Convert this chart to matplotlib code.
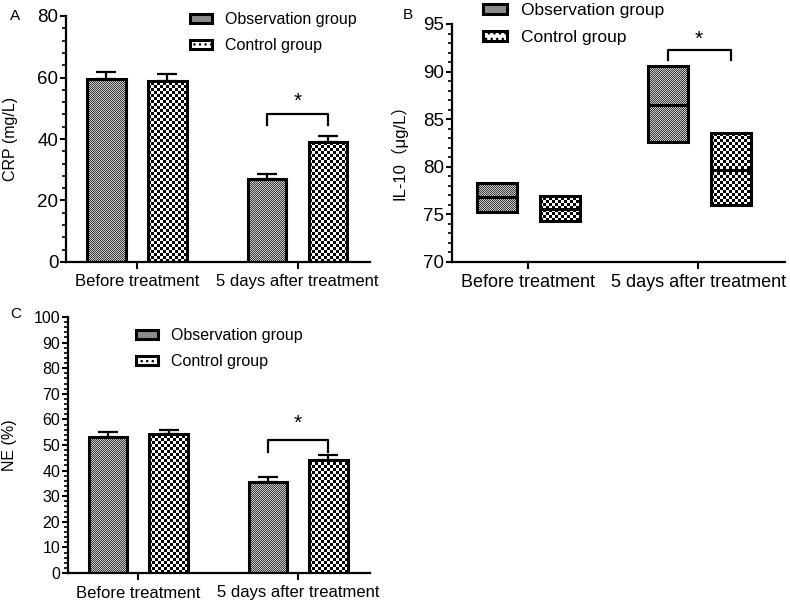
import matplotlib.pyplot as plt
import numpy as np
from matplotlib.colors import ListedColormap
from matplotlib.patches import Patch
from matplotlib.ticker import MultipleLocator

plt.rcParams['font.family'] = ['Liberation Sans', 'Noto Sans CJK SC', 'DejaVu Sans']

groups = ['Before treatment', '5 days after treatment']
series = ['Observation group', 'Control group']

# A: CRP (mean, upper error)
crp_obs = [59.6, 27.0]
crp_obs_err = [2.2, 1.7]
crp_ctrl = [59.0, 39.1]
crp_ctrl_err = [2.2, 1.8]

# B: IL-10 floating bars (min, max, mean)
il_obs_min = [75.3, 82.6]
il_obs_max = [78.3, 90.6]
il_obs_mean = [76.8, 86.5]
il_ctrl_min = [74.3, 76.0]
il_ctrl_max = [76.9, 83.5]
il_ctrl_mean = [75.6, 79.7]

# C: NE
ne_obs = [53.2, 35.7]
ne_obs_err = [1.8, 1.8]
ne_ctrl = [54.3, 44.1]
ne_ctrl_err = [1.5, 1.9]

W, H = 790, 607
fig = plt.figure(figsize=(7.9, 6.07), dpi=100)


def px_axes(l, r, top, bot):
    a = fig.add_axes([l / W, 1 - bot / H, (r - l) / W, (bot - top) / H])
    a.set_facecolor('none')
    return a


axA = px_axes(66, 370, 16, 262)
axB = px_axes(452, 785, 24, 262)
axC = px_axes(68, 370, 317, 573)

styles = {
    'obs': dict(cell=1, c=['#3c3c3c', '#c8c8c8']),
    'ctrl': dict(cell=3, c=['#000000', '#ffffff']),
}


def checker(patch, kind):
    # pixel-aligned checkerboard behind the (unfilled) bar
    st = styles[kind]
    bb = patch.get_window_extent()
    x0, y0 = int(round(bb.x0)), int(round(bb.y0))
    w, h = int(round(bb.width)), int(round(bb.height))
    ii, jj = np.mgrid[0:h, 0:w]
    arr = ((ii // st['cell']) + (jj // st['cell'])) % 2
    fig.figimage(arr, xo=x0, yo=y0, origin='lower', cmap=ListedColormap(st['c']),
                 zorder=-1)


def style_axis(ax, ylim, major, minor, xlim, ysize, xsize):
    ax.set_xlim(*xlim)
    ax.set_ylim(*ylim)
    ax.yaxis.set_major_locator(MultipleLocator(major))
    ax.yaxis.set_minor_locator(MultipleLocator(minor))
    for s in ['top', 'right']:
        ax.spines[s].set_visible(False)
    for s in ['left', 'bottom']:
        ax.spines[s].set_linewidth(1.6)
    ax.set_xticks([0, 1])
    ax.set_xticklabels(groups, fontsize=xsize)
    ax.tick_params(axis='x', length=5, width=1.5, pad=4)
    ax.tick_params(axis='y', which='major', length=4.5, width=1.5, labelsize=ysize, pad=1)
    ax.tick_params(axis='y', which='minor', length=2.8, width=1.2)


def bracket(ax, x1, x2, y, leg, star_y):
    ax.plot([x1, x1, x2, x2], [leg, y, y, leg], color='black', lw=1.6, zorder=4)
    ax.text((x1 + x2) / 2, star_y, '*', ha='center', va='center', fontsize=15)


xlimAC = (-0.44, 1.45)
off, bw = 0.19, 0.24
x = np.arange(len(groups))

for ax, obs, oe, ctrl, ce, ylim, major, minor, ys in [
        (axA, crp_obs, crp_obs_err, crp_ctrl, crp_ctrl_err, (0, 80), 20, 4, 13.5),
        (axC, ne_obs, ne_obs_err, ne_ctrl, ne_ctrl_err, (0, 100), 10, 2, 11.5)]:
    for xs, vals, errs, kind in [(x - off, obs, oe, 'obs'), (x + off, ctrl, ce, 'ctrl')]:
        bars = ax.bar(xs, vals, bw, facecolor='none', edgecolor='black', linewidth=2.2, zorder=3)
        ax.errorbar(xs, vals, yerr=[np.zeros(len(vals)), errs], fmt='none', ecolor='black',
                    elinewidth=1.6, capsize=7, capthick=1.6, zorder=2.5)
        style_axis(ax, ylim, major, minor, xlimAC, ys, 12)
        for p in bars:
            checker(p, kind)

bracket(axA, 1 - off, 1 + off, 48.1, 44.6, 52.2)
bracket(axC, 1 - off, 1 + off, 52.0, 47.4, 58.6)

# B
xlimB = (-0.447, 1.51)
offB = 0.19
for xs, lo, hi, mean, kind in [(x - 0.18, il_obs_min, il_obs_max, il_obs_mean, 'obs'),
                               (x + offB, il_ctrl_min, il_ctrl_max, il_ctrl_mean, 'ctrl')]:
    heights = np.array(hi) - np.array(lo)
    bars = axB.bar(xs, heights, 0.235, bottom=lo, facecolor='none', edgecolor='black',
                   linewidth=2.2, zorder=3)
    style_axis(axB, (70, 95), 5, 1, xlimB, 13.5, 13)
    for p in bars:
        checker(p, kind)
    axB.hlines(mean, xs - 0.235 / 2, xs + 0.235 / 2, color='black', lw=2.2, zorder=4)
bracket(axB, 1 - 0.18, 1 + offB, 92.3, 91.2, 93.4)

# labels
axA.set_ylabel('CRP (mg/L)', fontsize=11.5)
axA.yaxis.set_label_coords(-0.158, 0.5)
axB.set_ylabel('IL-10（μg/L）', fontsize=12)
axB.yaxis.set_label_coords(-0.135, 0.48)
axC.set_ylabel('NE (%)', fontsize=11.5)
axC.yaxis.set_label_coords(-0.169, 0.5)

fig.text(10 / W, 1 - 16 / H, 'A', fontsize=11, va='center')
fig.text(403 / W, 1 - 15 / H, 'B', fontsize=11, va='center')
fig.text(10 / W, 1 - 314 / H, 'C', fontsize=11, va='center')

handles = [Patch(facecolor='#8a8a8a', edgecolor='black', linewidth=2.2),
           Patch(facecolor='white', edgecolor='black', linewidth=2.2, hatch='...')]
for ax, lx, ly, fs in [(axA, 190, 12, 11.5), (axB, 483, 3, 12.5), (axC, 136, 328, 11.5)]:
    ax.legend(handles, series, loc='upper left', bbox_to_anchor=(lx / W, 1 - ly / H),
              bbox_transform=fig.transFigure, frameon=False, fontsize=fs,
              borderpad=0, borderaxespad=0, handlelength=1.4, handleheight=0.5,
              handletextpad=0.8, labelspacing=0.7)

fig.savefig('out.png', dpi=100)
